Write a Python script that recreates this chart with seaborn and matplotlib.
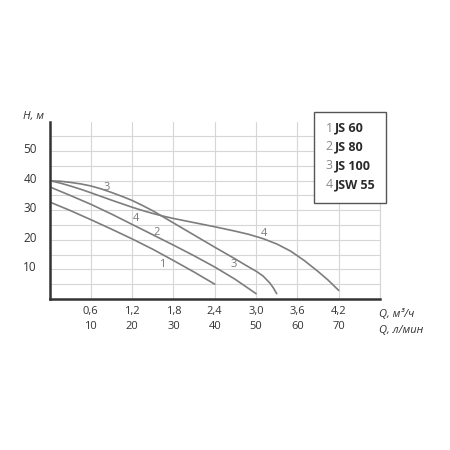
import pandas as pd
import matplotlib.pyplot as plt
import seaborn as sns
from matplotlib.transforms import ScaledTranslation

# pump curves: Q in m3/h, H in m
js60_q = [0, 0.3, 0.6, 0.9, 1.2, 1.5, 1.8, 2.1, 2.4]
js60_h = [32.8, 29.9, 26.8, 23.6, 20.3, 16.8, 13.0, 9.1, 5.0]

js80_q = [0, 0.3, 0.6, 0.9, 1.2, 1.5, 1.8, 2.1, 2.4, 2.7, 3.0]
js80_h = [37.9, 35.0, 32.0, 28.7, 25.2, 21.7, 18.2, 14.6, 10.8, 6.6, 1.8]

js100_q = [0, 0.15, 0.3, 0.45, 0.6, 0.75, 0.9, 1.05, 1.2, 1.35, 1.5, 1.8, 2.1, 2.4,
           2.7, 2.85, 3.0, 3.1, 3.2, 3.25, 3.3]
js100_h = [39.9, 39.8, 39.4, 38.9, 38.2, 37.2, 36.0, 34.7, 33.3, 31.6, 29.8, 25.7, 21.6, 17.5,
           13.5, 11.4, 9.4, 7.8, 5.4, 3.8, 1.8]

jsw55_q = [0, 0.15, 0.3, 0.45, 0.6, 0.9, 1.2, 1.35, 1.5, 1.65, 1.8, 2.1, 2.4, 2.7,
           2.9, 3.1, 3.3, 3.5, 3.7, 3.9, 4.05, 4.2]
jsw55_h = [40.0, 39.2, 38.2, 37.1, 35.9, 33.4, 31.0, 29.9, 28.9, 28.0, 27.2, 25.8, 24.4, 22.9,
           21.8, 20.4, 18.6, 16.2, 13.0, 9.3, 6.3, 2.9]

names = ['JS 60', 'JS 80', 'JS 100', 'JSW 55']
numbers = ['1', '2', '3', '4']

# curve number labels placed on the chart
tag_text = ['1', '2', '3', '4', '4', '3']
tag_q = [1.64, 1.55, 0.83, 1.25, 3.11, 2.67]
tag_h = [11.5, 22.4, 37.7, 27.3, 22.0, 11.8]

q_ticks = [0.6, 1.2, 1.8, 2.4, 3.0, 3.6, 4.2]
q_m3h_labels = ['0,6', '1,2', '1,8', '2,4', '3,0', '3,6', '4,2']
q_lmin_labels = ['10', '20', '30', '40', '50', '60', '70']
h_ticks = [10, 20, 30, 40, 50]

frames = []
for n, q, h in zip(names, [js60_q, js80_q, js100_q, jsw55_q], [js60_h, js80_h, js100_h, jsw55_h]):
    frames.append(pd.DataFrame({'Q': q, 'H': h, 'pump': n}))
df = pd.concat(frames, ignore_index=True)

sns.set_style('white')
plt.rcParams['font.family'] = ['Open Sans', 'DejaVu Sans']

fig = plt.figure(figsize=(4.5, 4.5), dpi=100)
ax = fig.add_axes([0.11, 0.3356, 0.7344, 0.3933])

sns.lineplot(data=df, x='Q', y='H', hue='pump', palette=['#7d7d7d'] * 4,
             estimator=None, sort=False, linewidth=1.2, legend=False, ax=ax)
for line in ax.get_lines():
    line.set_solid_joinstyle('round')

ax.set_xlim(0, 4.8)
ax.set_ylim(0, 59.8)
ax.set_xticks(q_ticks + [4.8])
ax.set_xticklabels([a + '\n' + b for a, b in zip(q_m3h_labels, q_lmin_labels)] + [''],
                   fontsize=8, color='#333333', linespacing=1.55)
ax.set_yticks(h_ticks)
ax.set_yticklabels([str(v) for v in h_ticks], fontsize=8.5, color='#333333')
ax.set_yticks(range(5, 56, 5), minor=True)
ax.tick_params(axis='both', length=0)
ax.tick_params(axis='x', pad=5)
ax.tick_params(axis='y', pad=9)
for lab in ax.get_yticklabels():
    lab.set_transform(lab.get_transform() + ScaledTranslation(0, 3 / 100, fig.dpi_scale_trans))

ax.grid(True, which='both', color='#d6d6d6', linewidth=0.8)
ax.set_axisbelow(True)
for side in ['left', 'bottom']:
    ax.spines[side].set_color('#333333')
    ax.spines[side].set_linewidth(1.8)
ax.spines['top'].set_visible(False)
ax.spines['right'].set_color('#d6d6d6')
ax.spines['right'].set_linewidth(0.8)
ax.set_xlabel('')
ax.set_ylabel('')

for t, q, h in zip(tag_text, tag_q, tag_h):
    ax.text(q, h, t, fontsize=8, color='#7a7a7a', ha='center', va='center')

# axis titles
ax.text(4.78, -5.2, 'Q, м³/ч', fontsize=8, style='italic', color='#333333', ha='left', va='center')
ax.text(4.78, -10.6, 'Q, л/мин', fontsize=8, style='italic', color='#333333', ha='left', va='center')
fig.text(23 / 450, 1 - 117 / 450, 'H, м', fontsize=8, style='italic', color='#333333', ha='left', va='center')

# legend box
box = plt.Rectangle((314 / 450, 1 - 203 / 450), 72 / 450, 91 / 450, transform=fig.transFigure,
                    facecolor='white', edgecolor='#555555', linewidth=1)
fig.add_artist(box)
for i, (num, name) in enumerate(zip(numbers, names)):
    y = 1 - (128 + 19 * i) / 450
    fig.text(333 / 450, y, num, fontsize=9, color='#8a8a8a', ha='right', va='center')
    fig.text(335 / 450, y, name, fontsize=9, color='#2a2a2a', fontweight='bold', ha='left', va='center')

plt.savefig('out.png', dpi=100)
